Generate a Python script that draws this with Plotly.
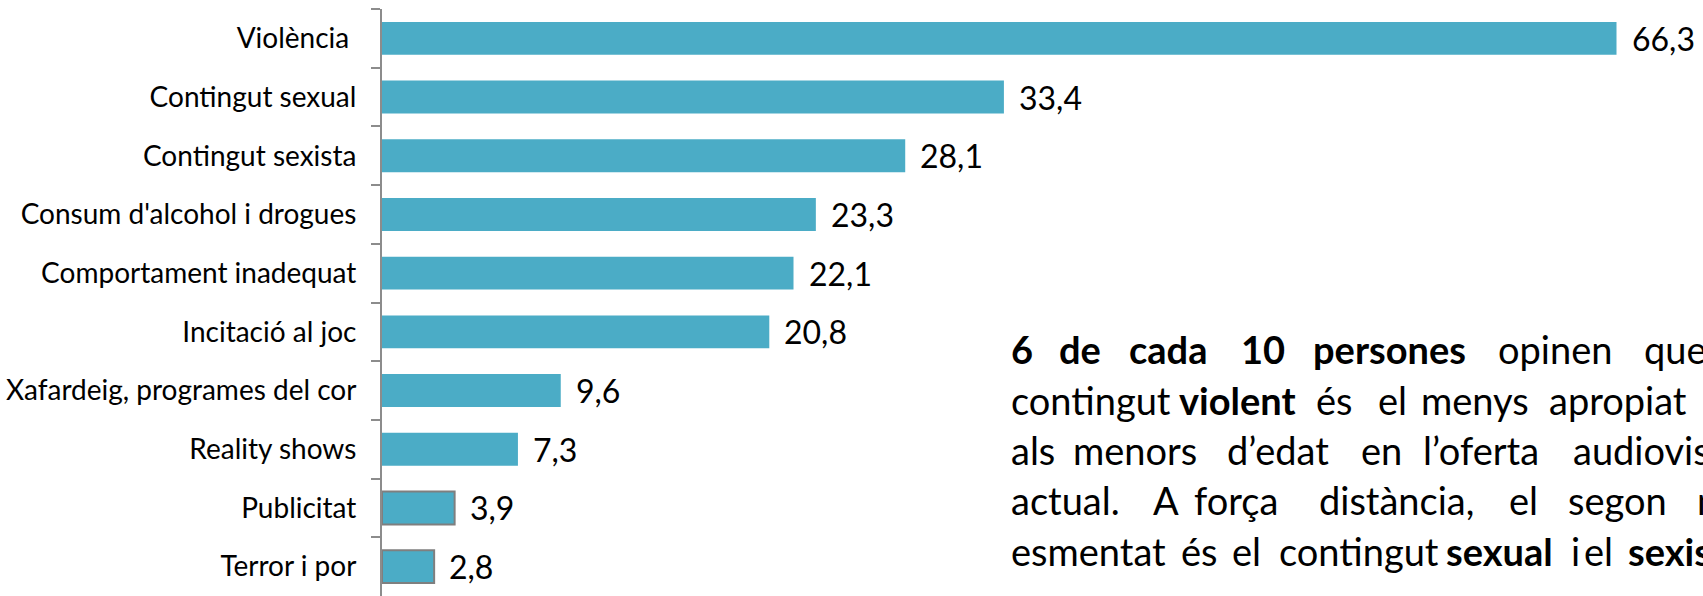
import plotly.graph_objects as go

# Survey results: share of respondents (%) naming each content type
categories = [
    "Violència ",
    "Contingut sexual",
    "Contingut sexista",
    "Consum d'alcohol i drogues",
    "Comportament inadequat",
    "Incitació al joc",
    "Xafardeig, programes del cor",
    "Reality shows",
    "Publicitat",
    "Terror i por",
]
values = [66.3, 33.4, 28.1, 23.3, 22.1, 20.8, 9.6, 7.3, 3.9, 2.8]
outlined = ["Publicitat", "Terror i por"]

# Commentary paragraph, one list of (word, bold) per line
text_lines = [
    [("6", True), ("de", True), ("cada", True), ("10", True), ("persones", True),
     ("opinen", False), ("que", False)],
    [("contingut", False), ("violent", True), ("és", False), ("el", False),
     ("menys", False), ("apropiat", False)],
    [("als", False), ("menors", False), ("d’edat", False), ("en", False),
     ("l’oferta", False), ("audiovisual", False)],
    [("actual.", False), ("A", False), ("força", False), ("distància,", False),
     ("el", False), ("segon", False), ("més", False)],
    [("esmentat", False), ("és", False), ("el", False), ("contingut", False),
     ("sexual", True), ("i", False), ("el", False), ("sexista.", True)],
]
# left edge (px) of every word in the justified paragraph
word_x = [
    [1010, 1058, 1128, 1240, 1312, 1497, 1643],
    [1010, 1178, 1315, 1377, 1420, 1548],
    [1010, 1072, 1226, 1360, 1422, 1572],
    [1010, 1152, 1193, 1318, 1508, 1567, 1696],
    [1010, 1180, 1231, 1278, 1445, 1570, 1583, 1627],
]

W, H = 1703, 596
ML, MR, MT, MB = 382, 0, 9, 0
PX_PER_UNIT = 18.62
BAR_COLOR = "#4BACC6"
AXIS_GRAY = "#8C8C8C"
FONT = "Lato"


def fmt(v):
    return f"{v:.1f}".replace(".", ",")


def paper_x(px):
    return (px - ML) / (W - ML - MR)


def paper_y(py):
    return 1 - (py - MT) / (H - MT - MB)


fig = go.Figure()
fig.add_trace(
    go.Bar(
        x=values,
        y=categories,
        orientation="h",
        marker=dict(
            color=BAR_COLOR,
            line=dict(
                color=["#7F7F7F" if c in outlined else BAR_COLOR for c in categories],
                width=[2 if c in outlined else 0 for c in categories],
            ),
        ),
        width=0.56,
        hoverinfo="skip",
    )
)

annotations = []
# value labels to the right of each bar
for c, v in zip(categories, values):
    annotations.append(
        dict(
            x=v, y=c, xref="x", yref="y", text=fmt(v), showarrow=False,
            xanchor="left", yanchor="middle", xshift=14, borderpad=0,
            font=dict(family=FONT, size=32, color="#000000"),
        )
    )

# justified commentary paragraph
for i, (line, xs) in enumerate(zip(text_lines, word_x)):
    yc = 349.5 + 50.3 * i
    for (word, bold), px in zip(line, xs):
        annotations.append(
            dict(
                x=paper_x(px), y=paper_y(yc), xref="paper", yref="paper",
                text=f"<b>{word}</b>" if bold else word, showarrow=False,
                xanchor="left", yanchor="middle", borderpad=0,
                font=dict(family=FONT, size=38, color="#000000"),
            )
        )

fig.update_layout(
    width=W, height=H,
    margin=dict(l=ML, r=MR, t=MT, b=MB, pad=0),
    paper_bgcolor="white", plot_bgcolor="white",
    showlegend=False,
    bargap=0.44,
    annotations=annotations,
    xaxis=dict(
        range=[0, (W - ML - MR) / PX_PER_UNIT],
        visible=False, showgrid=False, zeroline=False,
    ),
    yaxis=dict(
        autorange="reversed",
        showline=True, linecolor=AXIS_GRAY, linewidth=2,
        ticks="outside", ticklen=9, tickwidth=2, tickcolor=AXIS_GRAY,
        tickson="boundaries",
        ticklabelstandoff=18,
        tickfont=dict(family=FONT, size=28, color="#000000"),
        showgrid=False, zeroline=False,
    ),
)

fig.write_html("out.html")
